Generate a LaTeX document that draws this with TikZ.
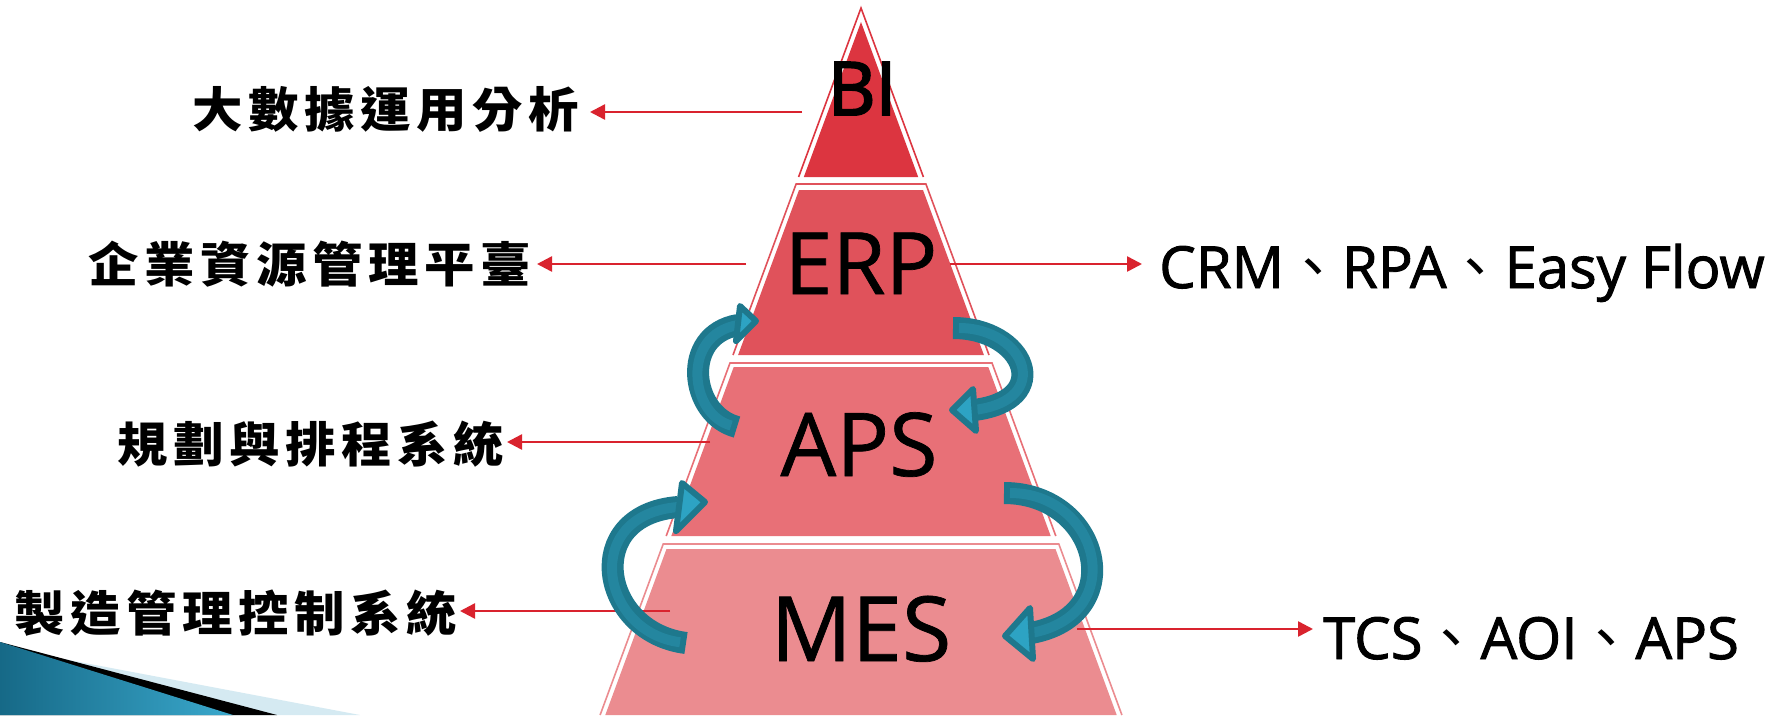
\documentclass[tikz,border=0pt]{standalone}
\usepackage{fontspec}
\setmainfont{Open Sans}
\newfontfamily\cjk{Noto Sans CJK TC}
\newfontfamily\cjkls[LetterSpace=11]{Noto Sans CJK TC}
\newfontfamily\osbold[FakeBold=1.6]{Open Sans}
\newfontfamily\osmid[FakeBold=0.8]{Open Sans}
\newfontfamily\osbi[FakeBold=2.6]{Open Sans}
\usetikzlibrary{arrows.meta}
\definecolor{biC}{RGB}{220,53,64}
\definecolor{erpC}{RGB}{224,82,91}
\definecolor{apsC}{RGB}{232,112,119}
\definecolor{mesC}{RGB}{235,140,144}
\definecolor{redA}{RGB}{217,35,46}
\definecolor{tealD}{RGB}{30,120,141}
\definecolor{tealM}{RGB}{36,134,159}
\definecolor{tealL}{RGB}{45,163,195}
\definecolor{decoL}{RGB}{213,234,242}
\definecolor{decoA}{RGB}{22,105,135}
\definecolor{decoB}{RGB}{58,168,204}
\newcommand\tealarrow[7]{%
  \draw[line width=22pt, tealD] #1 .. controls #2 and #3 .. #4;
  \draw[line width=10pt, tealM, shorten <=6pt] #1 .. controls #2 and #3 .. #4;
  \filldraw[fill=tealL, draw=tealD, line width=6pt, line join=round] #5 -- #6 -- #7 -- cycle;
}
\newcommand\cjklabel[1]{\scalebox{1.05}[1]{#1}}
\begin{document}
\begin{tikzpicture}[x=1pt,y=-1pt,
  lbl/.style={inner sep=0pt, font=\cjkls\bfseries\fontsize{48}{54}\selectfont},
  tiertext/.style={inner sep=0pt, anchor=base},
  rlbl/.style={inner sep=0pt, anchor=base west, font=\osbold\fontsize{58}{64}\selectfont},
  redarr/.style={draw=redA, line width=2.5pt, -{Triangle[length=15pt,width=15pt]}},
  outl/.style={line width=1.6pt}]
\useasboundingbox (0,0) rectangle (1785,715);
\fill[white] (0,0) rectangle (1785,715);

% bottom-left decoration
\fill[decoL] (0,647) -- (360,715) -- (0,715) -- cycle;
\fill[black] (0,642) -- (277,715) -- (0,715) -- cycle;
\shade[left color=decoA, right color=decoB] (0,642) -- (233,715) -- (0,715) -- cycle;

% pyramid tiers
\fill[biC] (861,22) -- (918.2,177) -- (803.8,177) -- cycle;
\draw[biC, outl] (798.6,177) -- (861,8) -- (923.4,177);

\fill[erpC] (799,190) -- (923,190) -- (983.9,355) -- (738.1,355) -- cycle;
\draw[erpC, outl] (733,355) -- (796.1,184) -- (925.9,184) -- (989,355);

\fill[apsC] (733.7,367) -- (988.3,367) -- (1050.7,536) -- (671.3,536) -- cycle;
\draw[apsC, outl] (666.2,536) -- (730,363) -- (992,363) -- (1055.8,536);

\fill[mesC] (666.5,549) -- (1055.5,549) -- (1116.7,715) -- (605.3,715) -- cycle;
\draw[mesC, outl] (600.1,715) -- (663.2,544) -- (1058.8,544) -- (1121.9,715);

% tier texts
\node[tiertext, font=\osbi\fontsize{74}{80}\selectfont] (BI) at (862,115) {BI};
\node[tiertext, font=\osmid\fontsize{86}{92}\selectfont] (ERP) at (861,294) {ERP};
\node[tiertext, font=\osmid\fontsize{88}{94}\selectfont] (APS) at (859,476) {APS};
\node[tiertext, font=\osmid\fontsize{90}{96}\selectfont] (MES) at (861,661) {MES};

% left labels
\node[lbl, anchor=east] (L1) at (579,109) {\cjklabel{大數據運用分析}};
\node[lbl, anchor=east] (L2) at (531,264) {\cjklabel{企業資源管理平臺}};
\node[lbl, anchor=east] (L3) at (504,444) {\cjklabel{規劃與排程系統}};
\node[lbl, anchor=east] (L4) at (457,613) {\cjklabel{製造管理控制系統}};

% right labels
\node[rlbl] (R1) at (1159,288) {CRM{\cjk 、}RPA{\cjk 、}Easy Flow};
\node[rlbl] (R2) at (1323,659) {TCS{\cjk 、}AOI{\cjk 、}APS};

% red connectors
\coordinate (s1) at (802,112);
\coordinate (s2) at (746,264);
\coordinate (s3) at (710,442);
\coordinate (s4) at (670,611);
\coordinate (s5) at (950,264);
\coordinate (s6) at (1077,629);
\draw[redarr] (s1) -- ([xshift=11pt]s1 -| L1.east);
\draw[redarr] (s2) -- ([xshift=6pt]s2 -| L2.east);
\draw[redarr] (s3) -- ([xshift=3pt]s3 -| L3.east);
\draw[redarr] (s4) -- ([xshift=3pt]s4 -| L4.east);
\draw[redarr] (s5) -- ([xshift=-17pt]s5 -| R1.west);
\draw[redarr] (s6) -- ([xshift=-10pt]s6 -| R2.west);

% curved teal arrows
\tealarrow{(737,427)}{(690,415)}{(680,335)}{(738,325)}{(756,321)}{(740,306)}{(736,341)}
\tealarrow{(953,328)}{(1025,328)}{(1055,400)}{(974,410)}{(952,410)}{(973,389)}{(976,431)}
\tealarrow{(686,643)}{(600,632)}{(580,515)}{(678,507)}{(705,502)}{(682,483)}{(676,531)}
\tealarrow{(1004,493)}{(1100,493)}{(1130,615)}{(1031,633)}{(1005,636)}{(1030,608)}{(1033,659)}
\end{tikzpicture}
\end{document}
